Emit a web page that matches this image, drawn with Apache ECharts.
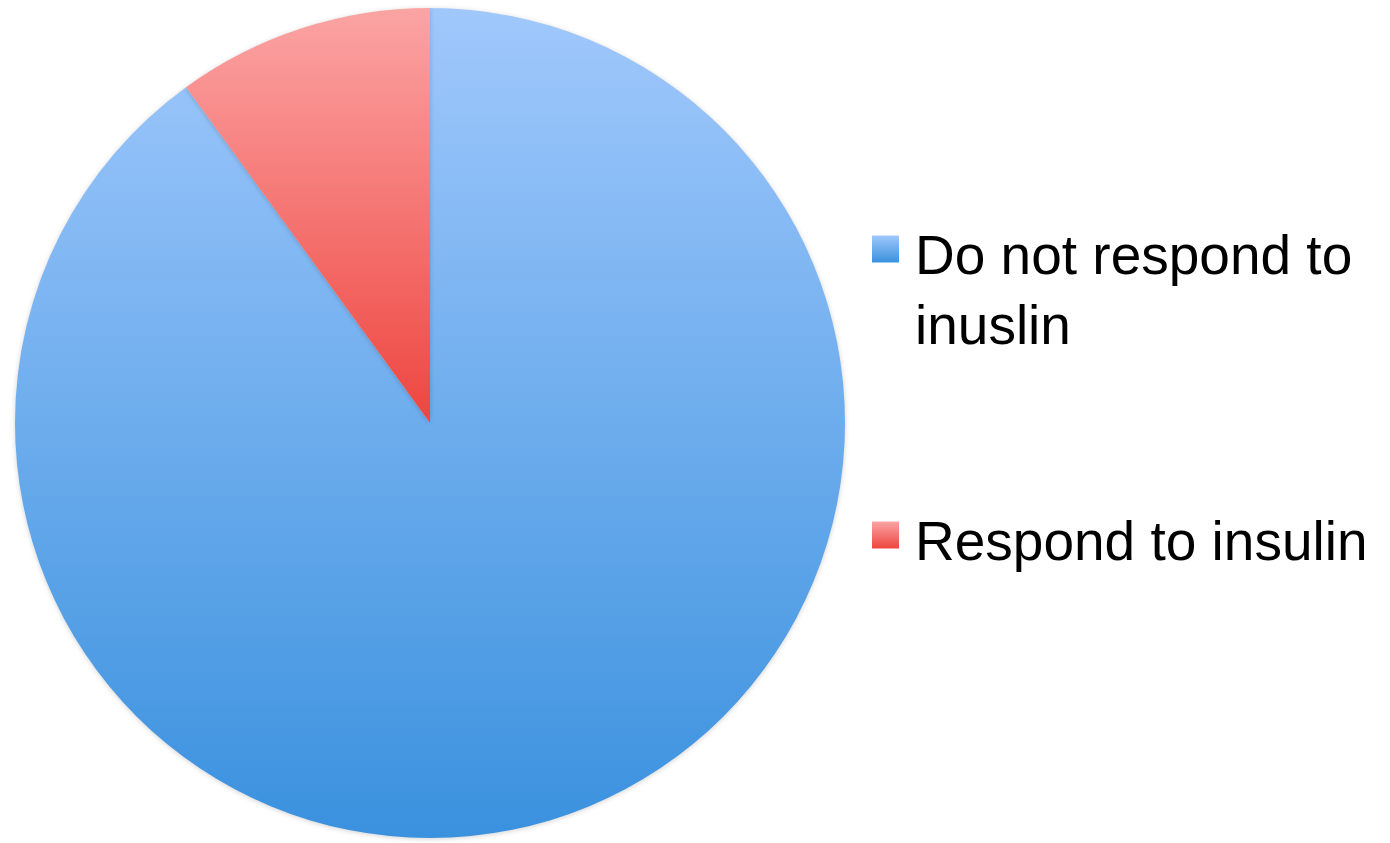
<!DOCTYPE html>
<html>
<head>
<meta charset="utf-8">
<script src="https://cdn.jsdelivr.net/npm/echarts@6/dist/echarts.min.js"></script>
<style>
html,body{margin:0;padding:0;background:#fff;}
#chart{width:1390px;height:843px;}
</style>
</head>
<body>
<div id="chart"></div>
<script>
const categories = ['Do not respond to inuslin', 'Respond to insulin'];
const labelLines = [['Do not respond to', 'inuslin'], ['Respond to insulin']];
const values = [90, 10];
const topColors = ['#a0c8fc', '#fba4a4'];
const bottomColors = ['#3a91de', '#ee453f'];

const chart = echarts.init(document.getElementById('chart'));
const LH = 70;   // line height of legend text
const D = 10;    // downward shift of first text line relative to icon centre
const topAdjust = [40, 5];

function grad(i) {
  return new echarts.graphic.LinearGradient(0, 0, 0, 1, [
    { offset: 0, color: topColors[i] },
    { offset: 1, color: bottomColors[i] }
  ]);
}

function makeLegend(i, iconCenterY) {
  const n = labelLines[i].length;
  const sH = (n - 1) * LH + 2 * D;
  const blockH = sH + n * LH;
  return {
    orient: 'vertical',
    left: 872,
    top: iconCenterY - blockH / 2 + topAdjust[i],
    padding: 0,
    itemWidth: 27,
    itemHeight: 27,
    icon: 'rect',
    data: [categories[i]],
    formatter: function () {
      return '{s| }\n' + labelLines[i].map(t => '{a|' + t + '}').join('\n');
    },
    textStyle: {
      fontFamily: 'Liberation Sans',
      fontSize: 55,
      color: '#000',
      rich: {
        s: { fontSize: 10, lineHeight: sH, fontFamily: 'Liberation Sans' },
        a: { fontSize: 55, lineHeight: LH, fontFamily: 'Liberation Sans', color: '#000', padding: [0, 0, 0, 11] }
      }
    }
  };
}

chart.setOption({
  animation: false,
  legend: [makeLegend(0, 249), makeLegend(1, 535)],
  series: [{
    type: 'pie',
    center: [430, 423],
    radius: [0, 415],
    startAngle: 90,
    clockwise: true,
    label: { show: false },
    labelLine: { show: false },
    emphasis: { disabled: true },
    itemStyle: {
      borderWidth: 0,
      shadowBlur: 5,
      shadowColor: 'rgba(0,0,0,0.18)',
      shadowOffsetY: 1
    },
    data: categories.map((c, i) => ({
      name: c,
      value: values[i],
      itemStyle: { color: grad(i) }
    }))
  }]
});
</script>
</body>
</html>
